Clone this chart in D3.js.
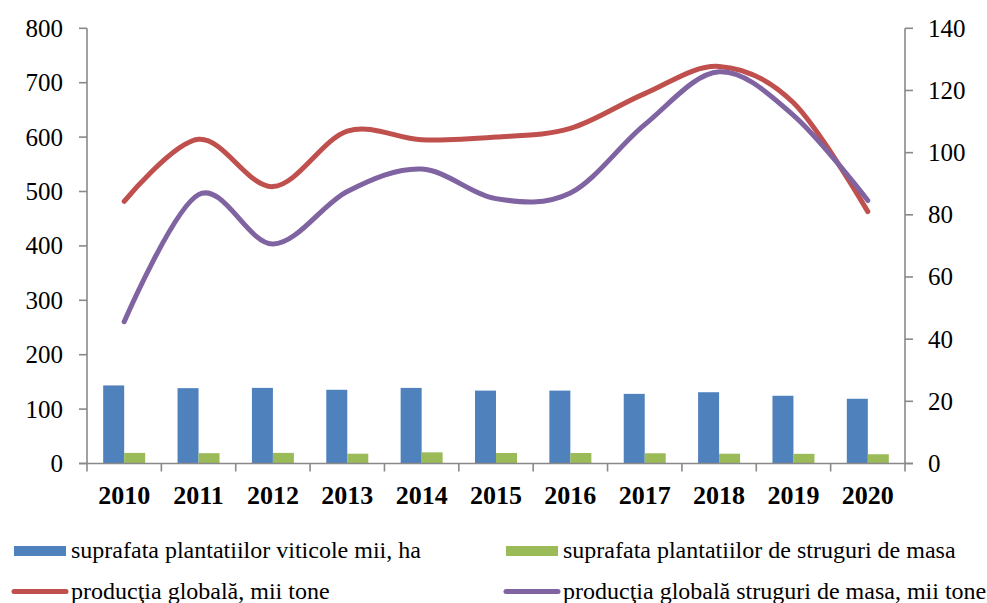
<!DOCTYPE html>
<html>
<head>
<meta charset="utf-8">
<script src="https://cdn.jsdelivr.net/npm/d3@7"></script>
<style>
  html, body { margin: 0; padding: 0; background: #fff; }
  svg { display: block; }
</style>
</head>
<body>
<svg id="chart" width="987" height="603"></svg>
<script>
const years = ["2010","2011","2012","2013","2014","2015","2016","2017","2018","2019","2020"];
const suprafataViticole = [143.5, 138.5, 139, 135.5, 139, 134, 134, 128, 131, 124.5, 119];
const suprafataMasa = [19.5, 19, 19.5, 18, 20.5, 19.3, 19.3, 18.8, 18, 17.8, 17];
const productiaGlobala = [482, 596, 509, 611, 595, 600, 616, 680, 730, 663, 463];
const productiaMasa = [45.6, 86.5, 70.6, 87.5, 94.7, 85.2, 87, 109, 126, 112, 84.6];
const leftTicks = [0, 100, 200, 300, 400, 500, 600, 700, 800];
const rightTicks = [0, 20, 40, 60, 80, 100, 120, 140];
const seriesNames = [
  "suprafata plantatiilor viticole mii, ha",
  "suprafata plantatiilor de struguri de masa",
  "producţia globală, mii tone",
  "producţia globală struguri de masa, mii tone"
];
const colors = ["#4F81BD", "#9BBB59", "#C0504D", "#8064A2"];
const FONT = "'Liberation Serif', 'Times New Roman', Times, 'DejaVu Serif', serif";

const svg = d3.select("#chart");
const x0 = 87, x1 = 905, yTop = 28.3, yBot = 463.5;
const axisColor = "#898989";

const x = d3.scaleBand().domain(years).range([x0, x1]).paddingInner(0).paddingOuter(0);
const yL = d3.scaleLinear().domain([0, 800]).range([yBot, yTop]);
const yR = d3.scaleLinear().domain([0, 140]).range([yBot, yTop]);
const barW = 21;

// bars
const g = svg.append("g");
g.selectAll("rect.b1").data(years).enter().append("rect")
  .attr("x", d => x(d) + x.bandwidth() / 2 - barW)
  .attr("y", (d, i) => yL(suprafataViticole[i]))
  .attr("width", barW)
  .attr("height", (d, i) => yBot - yL(suprafataViticole[i]))
  .attr("fill", colors[0]);
g.selectAll("rect.b2").data(years).enter().append("rect")
  .attr("x", d => x(d) + x.bandwidth() / 2)
  .attr("y", (d, i) => yL(suprafataMasa[i]))
  .attr("width", barW)
  .attr("height", (d, i) => yBot - yL(suprafataMasa[i]))
  .attr("fill", colors[1]);

// axes
const axisG = svg.append("g");
axisG.append("line").attr("x1", x0).attr("x2", x0).attr("y1", yTop).attr("y2", yBot)
  .attr("stroke", axisColor).attr("stroke-width", 1.6);
axisG.append("line").attr("x1", x1).attr("x2", x1).attr("y1", yTop).attr("y2", yBot)
  .attr("stroke", axisColor).attr("stroke-width", 1.6);
axisG.append("line").attr("x1", x0 - 8).attr("x2", x1 + 8).attr("y1", yBot).attr("y2", yBot)
  .attr("stroke", axisColor).attr("stroke-width", 1.6);

function txt(sel) { return sel.attr("font-family", FONT).attr("fill", "#000"); }

// left ticks
leftTicks.forEach(t => {
  axisG.append("line").attr("x1", x0 - 8).attr("x2", x0).attr("y1", yL(t)).attr("y2", yL(t))
    .attr("stroke", axisColor).attr("stroke-width", 1.6);
  txt(svg.append("text")).attr("x", 63).attr("y", yL(t)).attr("dy", "0.34em")
    .attr("text-anchor", "end").attr("font-size", 25).text(t);
});
rightTicks.forEach(t => {
  axisG.append("line").attr("x1", x1).attr("x2", x1 + 8).attr("y1", yR(t)).attr("y2", yR(t))
    .attr("stroke", axisColor).attr("stroke-width", 1.6);
  txt(svg.append("text")).attr("x", 928).attr("y", yR(t)).attr("dy", "0.34em")
    .attr("text-anchor", "start").attr("font-size", 25).text(t);
});
// x ticks at band boundaries
const bounds = years.map(d => x(d)).concat([x1]);
bounds.forEach(bx => {
  axisG.append("line").attr("x1", bx).attr("x2", bx).attr("y1", yBot).attr("y2", yBot + 8)
    .attr("stroke", axisColor).attr("stroke-width", 1.6);
});
years.forEach(d => {
  txt(svg.append("text")).attr("x", x(d) + x.bandwidth() / 2).attr("y", 504)
    .attr("text-anchor", "middle").attr("font-size", 26).attr("font-weight", "bold").text(d);
});

// lines
const cx = d => x(d) + x.bandwidth() / 2;
const lineL = d3.line().x((d, i) => cx(years[i])).y(d => yL(d)).curve(d3.curveCardinal.tension(0));
const lineR = d3.line().x((d, i) => cx(years[i])).y(d => yR(d)).curve(d3.curveCardinal.tension(0));
svg.append("path").attr("d", lineL(productiaGlobala)).attr("fill", "none")
  .attr("stroke", colors[2]).attr("stroke-width", 5).attr("stroke-linecap", "round").attr("stroke-linejoin", "round");
svg.append("path").attr("d", lineR(productiaMasa)).attr("fill", "none")
  .attr("stroke", colors[3]).attr("stroke-width", 5).attr("stroke-linecap", "round").attr("stroke-linejoin", "round");

// legend
const leg = svg.append("g");
const legPos = [[14, 551], [506, 551], [14, 591.5], [506, 591.5]];
seriesNames.forEach((name, i) => {
  const [lx, ly] = legPos[i];
  if (i < 2) {
    leg.append("rect").attr("x", lx).attr("y", ly - 5).attr("width", 52).attr("height", 10).attr("fill", colors[i]);
  } else {
    leg.append("line").attr("x1", lx).attr("x2", lx + 52).attr("y1", ly).attr("y2", ly)
      .attr("stroke", colors[i]).attr("stroke-width", 5).attr("stroke-linecap", "round");
  }
  txt(leg.append("text")).attr("x", lx + 57).attr("y", ly + 7).attr("font-size", 24).text(name);
});
</script>
</body>
</html>
